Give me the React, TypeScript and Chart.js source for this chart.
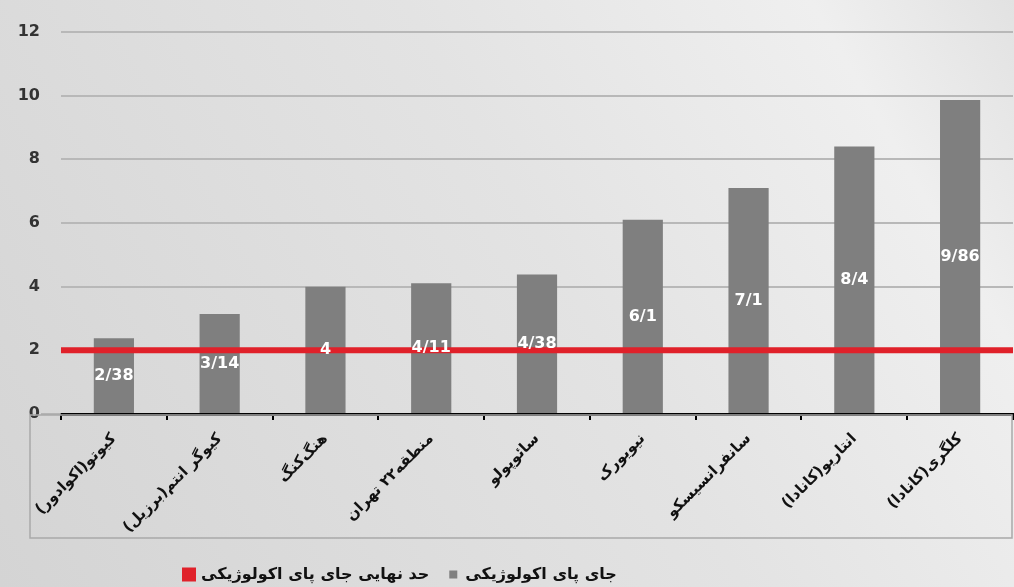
import React, { useEffect, useRef } from "react";
import { Chart, registerables } from "chart.js";

Chart.register(...registerables);

const categories = [
  "کیوتو(اکوادور)",
  "کیوگر انتم(برزیل)",
  "هنگ‌کنگ",
  "منطقه۲۲ تهران",
  "سائوپولو",
  "نیویورک",
  "سانفرانسیسکو",
  "انتاریو(کانادا)",
  "کلگری(کانادا)",
];

const footprintValues = [2.38, 3.14, 4, 4.11, 4.38, 6.1, 7.1, 8.4, 9.86];
const limitValues = [2, 2, 2, 2, 2, 2, 2, 2, 2];

const footprintName = "جای پای اکولوژیکی";
const limitName = "حد نهایی جای پای اکولوژیکی";

const yMin = 0;
const yMax = 12;
const yStep = 2;

const FONT = "'DejaVu Sans', 'Noto Sans', sans-serif";

export default function App() {
  const ref = useRef<HTMLCanvasElement | null>(null);

  useEffect(() => {
    document.body.style.margin = "0";
    const canvas = ref.current;
    if (!canvas) return;

    const background = {
      id: "bg",
      beforeDraw(chart: any) {
        const { ctx, width, height } = chart;
        ctx.save();
        const g = ctx.createLinearGradient(0, height, width, 0);
        g.addColorStop(0, "#d4d4d4");
        g.addColorStop(0.55, "#e3e3e3");
        g.addColorStop(0.85, "#efefef");
        g.addColorStop(1, "#e2e2e2");
        ctx.fillStyle = g;
        ctx.fillRect(0, 0, width, height);
        ctx.restore();
      },
    };

    const frame = {
      id: "frame",
      beforeDatasetsDraw(chart: any) {
        const { ctx, chartArea } = chart;
        ctx.save();
        ctx.strokeStyle = "#a9a9a9";
        ctx.lineWidth = 1.5;
        ctx.strokeRect(
          chartArea.left - 31,
          chartArea.bottom + 1,
          chartArea.right - 1 - (chartArea.left - 31),
          123
        );
        const y0 = chart.scales.y.getPixelForValue(0);
        ctx.beginPath();
        ctx.moveTo(chartArea.left - 20, y0);
        ctx.lineTo(chartArea.left, y0);
        ctx.stroke();
        ctx.restore();
      },
    };

    const legendPlace = {
      id: "legendPlace",
      afterLayout(chart: any) {
        const lg = chart.legend;
        if (!lg) return;
        const pad = lg.options.labels.padding;
        lg.left = 185 - pad;
        lg.top = 576 - pad - 9.6;
      },
    };

    const valueLabels = {
      id: "valueLabels",
      afterDatasetsDraw(chart: any) {
        const { ctx } = chart;
        const meta = chart.getDatasetMeta(0);
        ctx.save();
        ctx.fillStyle = "#ffffff";
        ctx.font = `bold 16px ${FONT}`;
        ctx.textAlign = "center";
        ctx.textBaseline = "middle";
        meta.data.forEach((el: any, i: number) => {
          const { x, y, base } = el.getProps(["x", "y", "base"], true);
          const txt = String(footprintValues[i]).replace(".", "/");
          ctx.fillText(txt, x, (y + base) / 2);
        });
        ctx.restore();
      },
    };

    const chart = new Chart(canvas, {
      type: "bar",
      data: {
        labels: categories,
        datasets: [
          {
            type: "bar",
            label: footprintName,
            data: footprintValues,
            backgroundColor: "#7f7f7f",
            categoryPercentage: 1,
            barPercentage: 0.38,
            grouped: false,
            order: 1,
          } as any,
          {
            type: "line",
            label: limitName,
            data: limitValues,
            xAxisID: "x2",
            borderColor: "#e0212a",
            backgroundColor: "#e0212a",
            borderWidth: 6,
            pointRadius: 0,
            borderCapStyle: "butt",
            order: 0,
          } as any,
        ],
      },
      options: {
        responsive: false,
        animation: false,
        layout: { padding: { top: 32, right: 1, left: 0, bottom: 0 } },
        plugins: {
          tooltip: { enabled: false },
          legend: {
            position: "bottom",
            align: "start",
            labels: {
              boxWidth: 8,
              boxHeight: 8,
              padding: 20,
              color: "#111111",
              font: { family: FONT, size: 16, weight: "bold" },
            },
          },
        },
        scales: {
          x: {
            type: "category",
            offset: true,
            grid: {
              offset: true,
              drawOnChartArea: false,
              drawTicks: true,
              tickLength: 6,
              color: "#000000",
              lineWidth: 2,
            },
            border: { display: true, color: "#000000", width: 3 },
            ticks: {
              minRotation: 45,
              maxRotation: 45,
              autoSkip: false,
              padding: 10,
              color: "#111111",
              font: { family: FONT, size: 15, weight: "bold" },
            },
            afterFit(scale: any) {
              scale.height = 127;
            },
          },
          x2: {
            type: "category",
            labels: categories,
            offset: false,
            display: false,
          },
          y: {
            min: yMin,
            max: yMax,
            ticks: {
              stepSize: yStep,
              padding: 21,
              color: "#333333",
              font: { family: FONT, size: 16, weight: "bold" },
            },
            grid: {
              color: "#b8b8b8",
              lineWidth: 2,
              drawTicks: false,
            },
            border: { display: false },
            afterFit(scale: any) {
              scale.width = 61;
            },
          },
        },
      },
      plugins: [background, frame, legendPlace, valueLabels],
    });

    return () => chart.destroy();
  }, []);

  return (
    <div style={{ width: 1014, height: 587 }}>
      <canvas ref={ref} width={1014} height={587} />
    </div>
  );
}
